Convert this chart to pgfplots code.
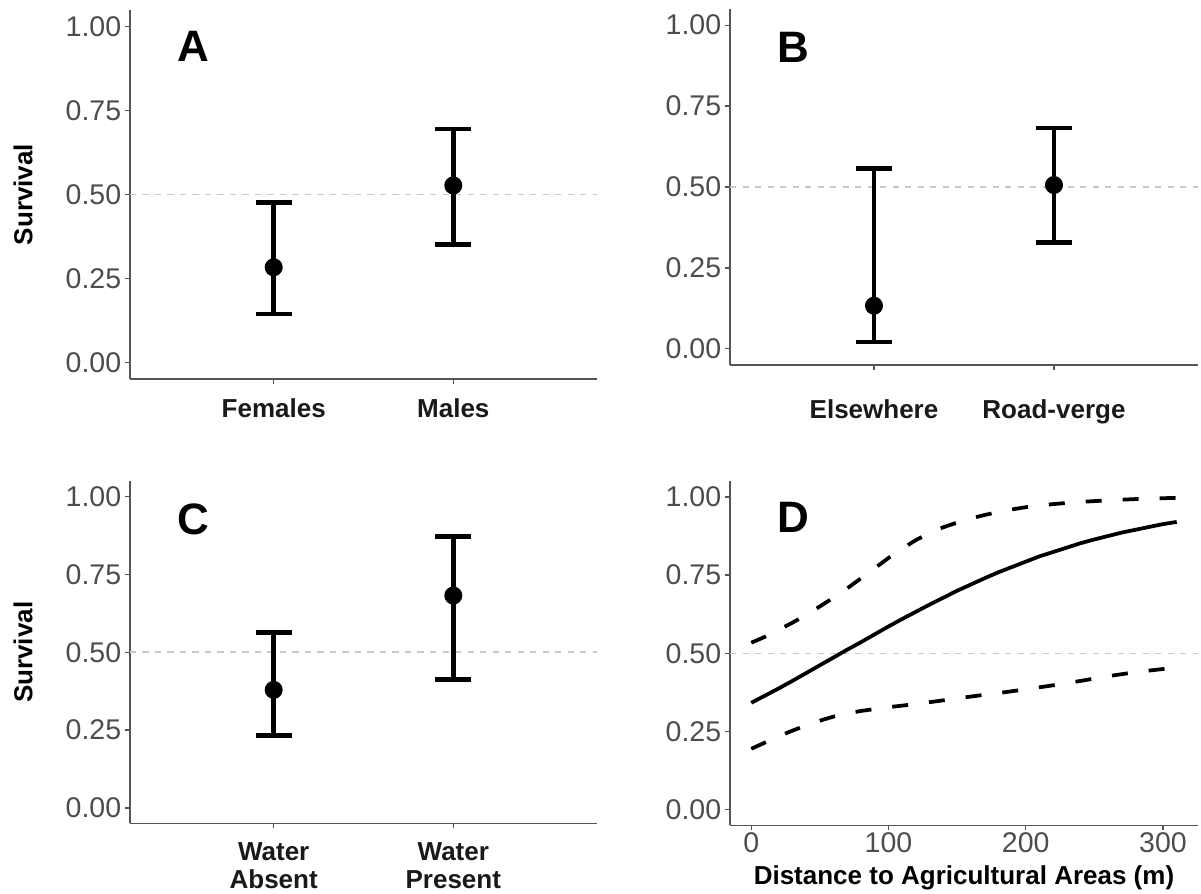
\documentclass[border=0pt]{standalone}
\usepackage{fontspec}
\setmainfont{Liberation Sans}
\usepackage{pgfplots}
\pgfplotsset{compat=1.18}

\definecolor{axgrey}{HTML}{555555}
\definecolor{ticktext}{HTML}{4D4D4D}
\definecolor{refline}{HTML}{C8C8C8}

\tikzset{letter/.style={font=\fontsize{17.6}{20}\selectfont\bfseries, anchor=center}}

\pgfplotsset{
  panel/.style={
    scale only axis,
    axis lines*=left,
    axis line style={axgrey, line width=0.75pt},
    tick align=outside,
    major tick length=2pt,
    tick style={axgrey, line width=0.5pt},
    ymin=-0.05, ymax=1.05,
    ytick={0,0.25,0.5,0.75,1},
    yticklabel style={font=\fontsize{11.4}{13}\selectfont, text=ticktext, xshift=2pt,
      /pgf/number format/.cd, fixed, fixed zerofill, precision=2, assume math mode=true},
    xticklabel style={font=\fontsize{10.4}{11.2}\selectfont\bfseries, text=black!90, align=center},
    every axis y label/.style={at={(axis description cs:-0.229,0.5)}, rotate=90, anchor=center,
      font=\fontsize{10.4}{12}\selectfont\bfseries},
    clip=false,
  },
  cat/.style={panel, xmin=0.2, xmax=2.8, xtick={1,2}},
  refl/.style={refline, line width=0.65pt, dash pattern=on 2.5pt off 2.5pt},
  est/.style={black, only marks, mark=*, mark size=3.4pt,
    error bars/.cd, y dir=both, y explicit,
    error bar style={line width=1.9pt, black},
    error mark options={rotate=90, mark size=7.2pt, line width=1.9pt, black}},
}

\begin{document}
\begin{tikzpicture}
\useasboundingbox (0,0) rectangle (480.4pt,357.6pt);

% A: sex
\begin{axis}[cat, at={(52pt,206pt)}, anchor=south west, width=186.8pt, height=147.6pt,
  xticklabels={Females,Males}, xticklabel style={yshift=-2.5pt}, ylabel={Survival}]
\addplot[refl] coordinates {(0.2,0.5) (2.8,0.5)};
\addplot[est] coordinates {
  (1,0.283) += (0,0.193) -= (0,0.139)
  (2,0.527) += (0,0.168) -= (0,0.175)
};
\node[letter] at (rel axis cs:0.135,0.902) {A};
\end{axis}

% B: location
\begin{axis}[cat, at={(292pt,211.6pt)}, anchor=south west, width=187.2pt, height=142.4pt,
  xticklabels={Elsewhere,Road-verge}, xticklabel style={yshift=-8.5pt}]
\addplot[refl] coordinates {(0.2,0.5) (2.8,0.5)};
\addplot[est] coordinates {
  (1,0.133) += (0,0.425) -= (0,0.112)
  (2,0.506) += (0,0.176) -= (0,0.177)
};
\node[letter] at (rel axis cs:0.135,0.893) {B};
\end{axis}

% C: water
\begin{axis}[cat, at={(52pt,28.2pt)}, anchor=south west, width=186.8pt, height=137pt,
  xticklabels={{Water\\Absent},{Water\\Present}}, xticklabel style={yshift=-2.3pt},
  ylabel={Survival}]
\addplot[refl] coordinates {(0.2,0.5) (2.8,0.5)};
\addplot[est] coordinates {
  (1,0.379) += (0,0.184) -= (0,0.147)
  (2,0.682) += (0,0.189) -= (0,0.270)
};
\node[letter] at (rel axis cs:0.135,0.889) {C};
\end{axis}

% D: distance to agriculture
\begin{axis}[panel, at={(292pt,27.4pt)}, anchor=south west, width=187.2pt, height=137.7pt,
  xmin=-15.5, xmax=325.5, xtick={0,100,200,300},
  xticklabel style={font=\fontsize{11.4}{13}\selectfont\mdseries, text=ticktext, yshift=2.6pt,
    /pgf/number format/assume math mode=true},
  xlabel={Distance to Agricultural Areas (m)},
  every axis x label/.style={at={(rel axis cs:0.5,0)}, anchor=center, yshift=-20.8pt,
    font=\fontsize{10.4}{12}\selectfont\bfseries}]
\addplot[refl] coordinates {(-15.5,0.5) (325.5,0.5)};
% upper limit
\addplot[black, line width=1.5pt, dash pattern=on 6.4pt off 8.4pt] coordinates {
  (0,0.534) (10,0.553) (20,0.575) (30,0.598) (40,0.623) (50,0.650) (60,0.678)
  (70,0.708) (80,0.740) (90,0.772) (100,0.805) (110,0.835) (120,0.862) (130,0.885)
  (140,0.903) (150,0.918) (160,0.931) (170,0.942) (180,0.952) (190,0.960) (200,0.967)
  (220,0.977) (240,0.984) (260,0.989) (280,0.993) (310,0.997)
};
% estimate
\addplot[black, line width=1.5pt] coordinates {
  (0,0.342) (10,0.365) (20,0.388) (30,0.412) (40,0.437) (50,0.462) (60,0.487)
  (70,0.512) (80,0.536) (90,0.561) (100,0.586) (110,0.610) (120,0.633) (130,0.656)
  (140,0.678) (150,0.700) (160,0.720) (170,0.740) (180,0.759) (190,0.776) (200,0.793)
  (210,0.810) (220,0.824) (230,0.838) (240,0.852) (250,0.864) (260,0.875) (270,0.886)
  (280,0.895) (290,0.904) (300,0.913) (310,0.920)
};
% lower limit
\addplot[black, line width=1.5pt, dash pattern=on 6.4pt off 8.4pt] coordinates {
  (0,0.195) (10,0.215) (20,0.235) (30,0.253) (40,0.270) (50,0.285) (60,0.298)
  (70,0.308) (80,0.316) (90,0.322) (100,0.328) (120,0.338) (140,0.350) (160,0.362)
  (180,0.373) (200,0.385) (220,0.398) (240,0.412) (260,0.427) (280,0.440) (300,0.450)
  (310,0.455)
};
\node[letter] at (rel axis cs:0.135,0.894) {D};
\end{axis}
\end{tikzpicture}
\end{document}
